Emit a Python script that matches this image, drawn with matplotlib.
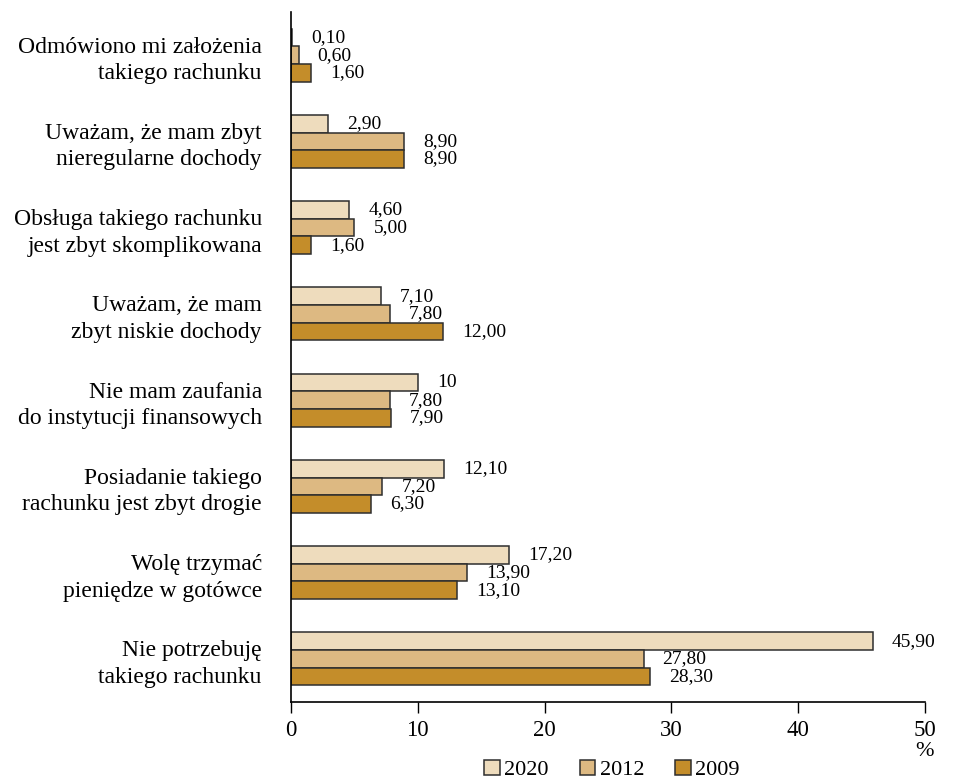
import matplotlib.pyplot as plt
import numpy as np

plt.rcParams['font.family'] = ['Liberation Serif', 'DejaVu Serif']

categories = [
    "Odmówiono mi założenia\ntakiego rachunku",
    "Uważam, że mam zbyt\nnieregularne dochody",
    "Obsługa takiego rachunku\njest zbyt skomplikowana",
    "Uważam, że mam\nzbyt niskie dochody",
    "Nie mam zaufania\ndo instytucji finansowych",
    "Posiadanie takiego\nrachunku jest zbyt drogie",
    "Wolę trzymać\npieniędze w gotówce",
    "Nie potrzebuję\ntakiego rachunku",
]
years = ["2020", "2012", "2009"]
v2020 = [0.10, 2.90, 4.60, 7.10, 10.0, 12.10, 17.20, 45.90]
v2012 = [0.60, 8.90, 5.00, 7.80, 7.80, 7.20, 13.90, 27.80]
v2009 = [1.60, 8.90, 1.60, 12.00, 7.90, 6.30, 13.10, 28.30]
lab2020 = ["0,10", "2,90", "4,60", "7,10", "10", "12,10", "17,20", "45,90"]
lab2012 = ["0,60", "8,90", "5,00", "7,80", "7,80", "7,20", "13,90", "27,80"]
lab2009 = ["1,60", "8,90", "1,60", "12,00", "7,90", "6,30", "13,10", "28,30"]
xticks = [0, 10, 20, 30, 40, 50]

colors = ["#EEDCBD", "#DDB982", "#C48D2A"]
series = [v2020, v2012, v2009]
labels = [lab2020, lab2012, lab2009]

fig = plt.figure(figsize=(9.6, 7.83), dpi=100)
ax = fig.add_axes([291/960, 1 - 702/783, (925-291)/960, (702-12)/783])

y = np.arange(len(categories))
h = 0.205
offsets = [-h, 0, h]
for vals, labs, col, off, yr in zip(series, labels, colors, offsets, years):
    ax.barh(y + off, vals, height=h, color=col, edgecolor="#2e2e2e",
            linewidth=1.1, label=yr)
    for yi, v, t in zip(y, vals, labs):
        ax.text(v + 1.5, yi + off, t, va="center", ha="left", fontsize=14)

ax.set_ylim(len(categories) - 0.5, -0.5)
ax.set_xlim(0, 50)
ax.set_xticks(xticks)
ax.set_yticks(y)
ax.set_yticklabels(categories, fontsize=17, linespacing=1.35)
ax.tick_params(axis="y", length=0, pad=21)
ax.tick_params(axis="x", length=8, width=1, labelsize=16.5, pad=5)
for s in ["top", "right"]:
    ax.spines[s].set_visible(False)
for s in ["left", "bottom"]:
    ax.spines[s].set_linewidth(1.2)

ax.text(1.0, -0.072, "%", transform=ax.transAxes, ha="center", va="center",
        fontsize=16)

fig.legend(loc="center", bbox_to_anchor=(612/960, 1 - 770/783), ncol=3,
           frameon=False, fontsize=16, handlelength=0.7, handleheight=0.7,
           handletextpad=0.2, columnspacing=1.4, borderpad=0.1)

fig.savefig("out.png", dpi=100)
